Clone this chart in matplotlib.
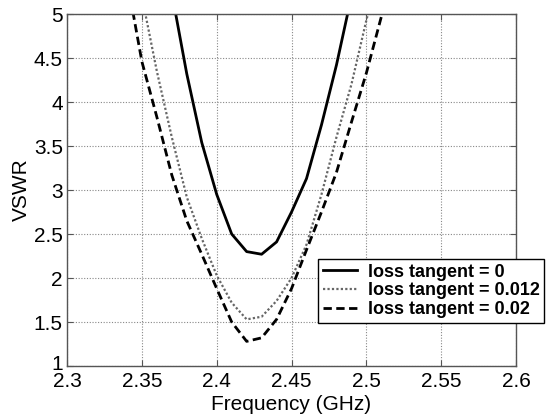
import matplotlib
matplotlib.use('Agg')
import matplotlib.pyplot as plt
from matplotlib.transforms import ScaledTranslation

plt.rcParams['font.family'] = ['Liberation Sans', 'DejaVu Sans']

# frequency samples (GHz) and VSWR
freq_a = [2.37, 2.38, 2.39, 2.40, 2.41, 2.42, 2.43, 2.44, 2.45, 2.46, 2.47, 2.48, 2.49]
vswr_a = [5.24, 4.32, 3.54, 2.95, 2.50, 2.30, 2.27, 2.41, 2.75, 3.13, 3.74, 4.42, 5.20]

freq_b = [2.35, 2.36, 2.37, 2.38, 2.39, 2.40, 2.41, 2.42, 2.43, 2.44, 2.45, 2.46, 2.47, 2.48, 2.49, 2.50, 2.51]
vswr_b = [5.20, 4.35, 3.60, 2.92, 2.45, 2.03, 1.72, 1.53, 1.56, 1.74, 2.00, 2.38, 2.95, 3.60, 4.20, 4.93, 5.60]

freq_c = [2.34, 2.35, 2.36, 2.37, 2.38, 2.39, 2.40, 2.41, 2.42, 2.43, 2.44, 2.45, 2.46, 2.47, 2.48, 2.49, 2.50, 2.51, 2.52]
vswr_c = [5.40, 4.46, 3.83, 3.17, 2.65, 2.27, 1.88, 1.50, 1.28, 1.32, 1.53, 1.88, 2.32, 2.75, 3.20, 3.77, 4.33, 4.97, 5.60]

labels = ['loss tangent = 0', 'loss tangent = 0.012', 'loss tangent = 0.02']

fig = plt.figure(figsize=(5.49, 4.18), dpi=100)
ax = fig.add_axes([0.1221, 0.1244, 0.8179, 0.8421])

ax.plot(freq_a, vswr_a, color='black', lw=2.0, label=labels[0])
ax.plot(freq_b, vswr_b, color='#666666', lw=1.6, linestyle=(0, (1, 1)), label=labels[1])
ax.plot(freq_c, vswr_c, color='black', lw=2.0, linestyle=(0, (3, 1.6)), label=labels[2])

ax.set_xlim(2.3, 2.6)
ax.set_ylim(1, 5)
ax.set_xticks([2.3, 2.35, 2.4, 2.45, 2.5, 2.55, 2.6])
ax.set_xticklabels(['2.3', '2.35', '2.4', '2.45', '2.5', '2.55', '2.6'])
ax.set_yticks([1, 1.5, 2, 2.5, 3, 3.5, 4, 4.5, 5])
ax.set_yticklabels(['1', '1.5', '2', '2.5', '3', '3.5', '4', '4.5', '5'])
ax.grid(True, color='#888888', linestyle=(0, (1, 1.5)), lw=0.8)
ax.tick_params(direction='in', top=True, right=True, labelsize=15, length=4,
               color='#555555')
ax.tick_params(axis='x', pad=4)
ax.tick_params(axis='y', pad=3)
for s in ax.spines.values():
    s.set_color('#555555')
    s.set_linewidth(1.0)

# lift the bottom y label a little, as in the original
lab = ax.get_yticklabels()[0]
lab.set_transform(lab.get_transform() + ScaledTranslation(0, 4 / 100, fig.dpi_scale_trans))

ax.set_xlabel('Frequency (GHz)', fontsize=15, labelpad=3)
ax.set_ylabel('VSWR', fontsize=15, labelpad=2)

leg = ax.legend(loc='upper left', bbox_to_anchor=(318 / 549, 1 - 259 / 418),
                bbox_transform=fig.transFigure, prop={'weight': 'bold', 'size': 13},
                frameon=True, fancybox=False, handlelength=1.9, handletextpad=0.6,
                borderpad=0.25, labelspacing=0.1, borderaxespad=0)
leg.get_frame().set_edgecolor('black')
leg.get_frame().set_linewidth(1.0)
leg.get_frame().set_alpha(1)

fig.savefig('out.png', dpi=100)
